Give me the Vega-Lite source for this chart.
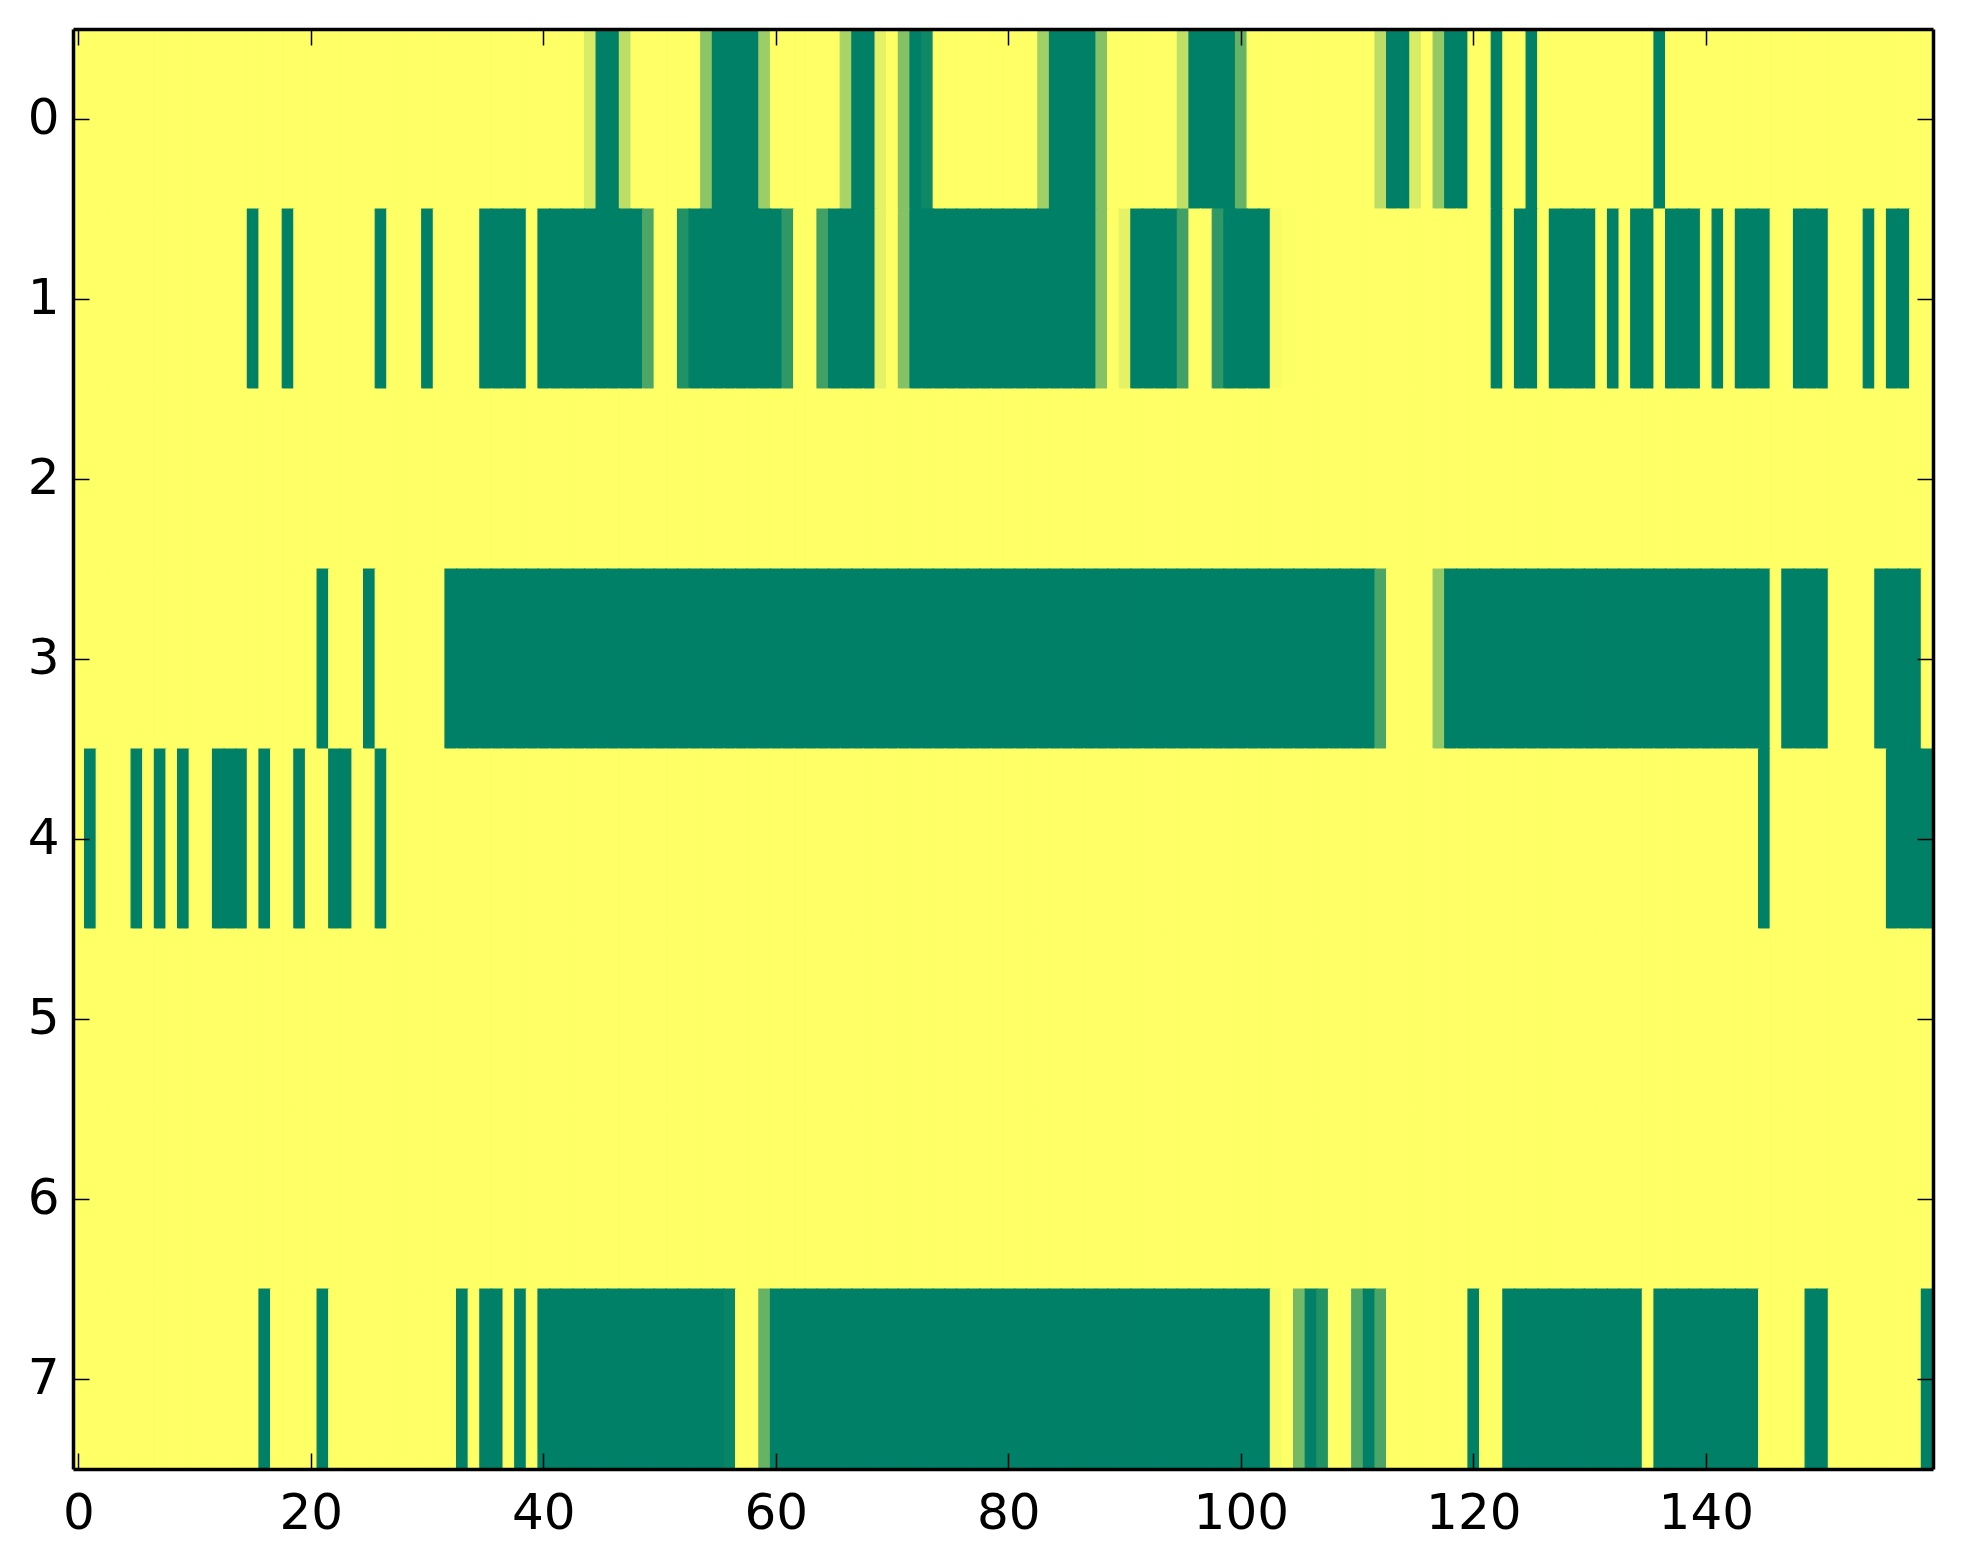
{
  "$schema": "https://vega.github.io/schema/vega-lite/v6.json",
  "description": "Binary-ish matrix of 8 rows x 160 columns, matplotlib summer colormap.",
  "width": 1860,
  "height": 1440,
  "autosize": "none",
  "padding": {"left": 73, "top": 29, "right": 30, "bottom": 95},
  "background": "white",
  "data": {
    "values": [
      {"r":0,"c":0,"v":1},{"r":0,"c":1,"v":1},{"r":0,"c":2,"v":1},{"r":0,"c":3,"v":1},{"r":0,"c":4,"v":1},{"r":0,"c":5,"v":1},{"r":0,"c":6,"v":1},{"r":0,"c":7,"v":1},{"r":0,"c":8,"v":1},{"r":0,"c":9,"v":1},
      {"r":0,"c":10,"v":1},{"r":0,"c":11,"v":1},{"r":0,"c":12,"v":1},{"r":0,"c":13,"v":1},{"r":0,"c":14,"v":1},{"r":0,"c":15,"v":1},{"r":0,"c":16,"v":1},{"r":0,"c":17,"v":1},{"r":0,"c":18,"v":1},{"r":0,"c":19,"v":1},
      {"r":0,"c":20,"v":1},{"r":0,"c":21,"v":1},{"r":0,"c":22,"v":1},{"r":0,"c":23,"v":1},{"r":0,"c":24,"v":1},{"r":0,"c":25,"v":1},{"r":0,"c":26,"v":1},{"r":0,"c":27,"v":1},{"r":0,"c":28,"v":1},{"r":0,"c":29,"v":1},
      {"r":0,"c":30,"v":1},{"r":0,"c":31,"v":1},{"r":0,"c":32,"v":1},{"r":0,"c":33,"v":1},{"r":0,"c":34,"v":1},{"r":0,"c":35,"v":1},{"r":0,"c":36,"v":1},{"r":0,"c":37,"v":1},{"r":0,"c":38,"v":1},{"r":0,"c":39,"v":1},
      {"r":0,"c":40,"v":1},{"r":0,"c":41,"v":1},{"r":0,"c":42,"v":1},{"r":0,"c":43,"v":1},{"r":0,"c":44,"v":0.85},{"r":0,"c":45,"v":0},{"r":0,"c":46,"v":0},{"r":0,"c":47,"v":0.74},{"r":0,"c":48,"v":1},{"r":0,"c":49,"v":1},
      {"r":0,"c":50,"v":1},{"r":0,"c":51,"v":1},{"r":0,"c":52,"v":1},{"r":0,"c":53,"v":1},{"r":0,"c":54,"v":0.55},{"r":0,"c":55,"v":0},{"r":0,"c":56,"v":0},{"r":0,"c":57,"v":0},{"r":0,"c":58,"v":0},{"r":0,"c":59,"v":0.61},
      {"r":0,"c":60,"v":1},{"r":0,"c":61,"v":1},{"r":0,"c":62,"v":1},{"r":0,"c":63,"v":1},{"r":0,"c":64,"v":1},{"r":0,"c":65,"v":1},{"r":0,"c":66,"v":0.66},{"r":0,"c":67,"v":0},{"r":0,"c":68,"v":0},{"r":0,"c":69,"v":0.9},
      {"r":0,"c":70,"v":1},{"r":0,"c":71,"v":0.52},{"r":0,"c":72,"v":0},{"r":0,"c":73,"v":0.06},{"r":0,"c":74,"v":1},{"r":0,"c":75,"v":1},{"r":0,"c":76,"v":1},{"r":0,"c":77,"v":1},{"r":0,"c":78,"v":1},{"r":0,"c":79,"v":1},
      {"r":0,"c":80,"v":1},{"r":0,"c":81,"v":1},{"r":0,"c":82,"v":1},{"r":0,"c":83,"v":0.63},{"r":0,"c":84,"v":0},{"r":0,"c":85,"v":0},{"r":0,"c":86,"v":0},{"r":0,"c":87,"v":0},{"r":0,"c":88,"v":0.52},{"r":0,"c":89,"v":1},
      {"r":0,"c":90,"v":1},{"r":0,"c":91,"v":1},{"r":0,"c":92,"v":1},{"r":0,"c":93,"v":1},{"r":0,"c":94,"v":1},{"r":0,"c":95,"v":0.75},{"r":0,"c":96,"v":0},{"r":0,"c":97,"v":0},{"r":0,"c":98,"v":0},{"r":0,"c":99,"v":0},
      {"r":0,"c":100,"v":0.4},{"r":0,"c":101,"v":1},{"r":0,"c":102,"v":1},{"r":0,"c":103,"v":1},{"r":0,"c":104,"v":1},{"r":0,"c":105,"v":1},{"r":0,"c":106,"v":1},{"r":0,"c":107,"v":1},{"r":0,"c":108,"v":1},{"r":0,"c":109,"v":1},
      {"r":0,"c":110,"v":1},{"r":0,"c":111,"v":1},{"r":0,"c":112,"v":0.74},{"r":0,"c":113,"v":0},{"r":0,"c":114,"v":0},{"r":0,"c":115,"v":0.85},{"r":0,"c":116,"v":1},{"r":0,"c":117,"v":0.58},{"r":0,"c":118,"v":0},{"r":0,"c":119,"v":0},
      {"r":0,"c":120,"v":1},{"r":0,"c":121,"v":1},{"r":0,"c":122,"v":0},{"r":0,"c":123,"v":1},{"r":0,"c":124,"v":1},{"r":0,"c":125,"v":0},{"r":0,"c":126,"v":1},{"r":0,"c":127,"v":1},{"r":0,"c":128,"v":1},{"r":0,"c":129,"v":1},
      {"r":0,"c":130,"v":1},{"r":0,"c":131,"v":1},{"r":0,"c":132,"v":1},{"r":0,"c":133,"v":1},{"r":0,"c":134,"v":1},{"r":0,"c":135,"v":1},{"r":0,"c":136,"v":0},{"r":0,"c":137,"v":1},{"r":0,"c":138,"v":1},{"r":0,"c":139,"v":1},
      {"r":0,"c":140,"v":1},{"r":0,"c":141,"v":1},{"r":0,"c":142,"v":1},{"r":0,"c":143,"v":1},{"r":0,"c":144,"v":1},{"r":0,"c":145,"v":1},{"r":0,"c":146,"v":1},{"r":0,"c":147,"v":1},{"r":0,"c":148,"v":1},{"r":0,"c":149,"v":1},
      {"r":0,"c":150,"v":1},{"r":0,"c":151,"v":1},{"r":0,"c":152,"v":1},{"r":0,"c":153,"v":1},{"r":0,"c":154,"v":1},{"r":0,"c":155,"v":1},{"r":0,"c":156,"v":1},{"r":0,"c":157,"v":1},{"r":0,"c":158,"v":1},{"r":0,"c":159,"v":1},

      {"r":1,"c":0,"v":1},{"r":1,"c":1,"v":1},{"r":1,"c":2,"v":1},{"r":1,"c":3,"v":1},{"r":1,"c":4,"v":1},{"r":1,"c":5,"v":1},{"r":1,"c":6,"v":1},{"r":1,"c":7,"v":1},{"r":1,"c":8,"v":1},{"r":1,"c":9,"v":1},
      {"r":1,"c":10,"v":1},{"r":1,"c":11,"v":1},{"r":1,"c":12,"v":1},{"r":1,"c":13,"v":1},{"r":1,"c":14,"v":1},{"r":1,"c":15,"v":0},{"r":1,"c":16,"v":1},{"r":1,"c":17,"v":1},{"r":1,"c":18,"v":0},{"r":1,"c":19,"v":1},
      {"r":1,"c":20,"v":1},{"r":1,"c":21,"v":1},{"r":1,"c":22,"v":1},{"r":1,"c":23,"v":1},{"r":1,"c":24,"v":1},{"r":1,"c":25,"v":1},{"r":1,"c":26,"v":0},{"r":1,"c":27,"v":1},{"r":1,"c":28,"v":1},{"r":1,"c":29,"v":1},
      {"r":1,"c":30,"v":0},{"r":1,"c":31,"v":1},{"r":1,"c":32,"v":1},{"r":1,"c":33,"v":1},{"r":1,"c":34,"v":1},{"r":1,"c":35,"v":0},{"r":1,"c":36,"v":0},{"r":1,"c":37,"v":0},{"r":1,"c":38,"v":0},{"r":1,"c":39,"v":1},
      {"r":1,"c":40,"v":0},{"r":1,"c":41,"v":0},{"r":1,"c":42,"v":0},{"r":1,"c":43,"v":0},{"r":1,"c":44,"v":0},{"r":1,"c":45,"v":0},{"r":1,"c":46,"v":0},{"r":1,"c":47,"v":0},{"r":1,"c":48,"v":0},{"r":1,"c":49,"v":0.3},
      {"r":1,"c":50,"v":1},{"r":1,"c":51,"v":1},{"r":1,"c":52,"v":0.13},{"r":1,"c":53,"v":0},{"r":1,"c":54,"v":0},{"r":1,"c":55,"v":0},{"r":1,"c":56,"v":0},{"r":1,"c":57,"v":0},{"r":1,"c":58,"v":0},{"r":1,"c":59,"v":0},
      {"r":1,"c":60,"v":0},{"r":1,"c":61,"v":0.19},{"r":1,"c":62,"v":1},{"r":1,"c":63,"v":1},{"r":1,"c":64,"v":0.25},{"r":1,"c":65,"v":0},{"r":1,"c":66,"v":0},{"r":1,"c":67,"v":0},{"r":1,"c":68,"v":0},{"r":1,"c":69,"v":0.9},
      {"r":1,"c":70,"v":1},{"r":1,"c":71,"v":0.52},{"r":1,"c":72,"v":0},{"r":1,"c":73,"v":0},{"r":1,"c":74,"v":0},{"r":1,"c":75,"v":0},{"r":1,"c":76,"v":0},{"r":1,"c":77,"v":0},{"r":1,"c":78,"v":0},{"r":1,"c":79,"v":0},
      {"r":1,"c":80,"v":0},{"r":1,"c":81,"v":0},{"r":1,"c":82,"v":0},{"r":1,"c":83,"v":0},{"r":1,"c":84,"v":0},{"r":1,"c":85,"v":0},{"r":1,"c":86,"v":0},{"r":1,"c":87,"v":0},{"r":1,"c":88,"v":0.52},{"r":1,"c":89,"v":1},
      {"r":1,"c":90,"v":0.9},{"r":1,"c":91,"v":0},{"r":1,"c":92,"v":0},{"r":1,"c":93,"v":0},{"r":1,"c":94,"v":0},{"r":1,"c":95,"v":0.25},{"r":1,"c":96,"v":1},{"r":1,"c":97,"v":1},{"r":1,"c":98,"v":0.19},{"r":1,"c":99,"v":0},
      {"r":1,"c":100,"v":0},{"r":1,"c":101,"v":0},{"r":1,"c":102,"v":0},{"r":1,"c":103,"v":0.97},{"r":1,"c":104,"v":1},{"r":1,"c":105,"v":1},{"r":1,"c":106,"v":1},{"r":1,"c":107,"v":1},{"r":1,"c":108,"v":1},{"r":1,"c":109,"v":1},
      {"r":1,"c":110,"v":1},{"r":1,"c":111,"v":1},{"r":1,"c":112,"v":1},{"r":1,"c":113,"v":1},{"r":1,"c":114,"v":1},{"r":1,"c":115,"v":1},{"r":1,"c":116,"v":1},{"r":1,"c":117,"v":1},{"r":1,"c":118,"v":1},{"r":1,"c":119,"v":1},
      {"r":1,"c":120,"v":1},{"r":1,"c":121,"v":1},{"r":1,"c":122,"v":0},{"r":1,"c":123,"v":1},{"r":1,"c":124,"v":0},{"r":1,"c":125,"v":0},{"r":1,"c":126,"v":1},{"r":1,"c":127,"v":0},{"r":1,"c":128,"v":0},{"r":1,"c":129,"v":0},
      {"r":1,"c":130,"v":0},{"r":1,"c":131,"v":1},{"r":1,"c":132,"v":0},{"r":1,"c":133,"v":1},{"r":1,"c":134,"v":0},{"r":1,"c":135,"v":0},{"r":1,"c":136,"v":1},{"r":1,"c":137,"v":0},{"r":1,"c":138,"v":0},{"r":1,"c":139,"v":0},
      {"r":1,"c":140,"v":1},{"r":1,"c":141,"v":0},{"r":1,"c":142,"v":1},{"r":1,"c":143,"v":0},{"r":1,"c":144,"v":0},{"r":1,"c":145,"v":0},{"r":1,"c":146,"v":1},{"r":1,"c":147,"v":1},{"r":1,"c":148,"v":0},{"r":1,"c":149,"v":0},
      {"r":1,"c":150,"v":0},{"r":1,"c":151,"v":1},{"r":1,"c":152,"v":1},{"r":1,"c":153,"v":1},{"r":1,"c":154,"v":0},{"r":1,"c":155,"v":1},{"r":1,"c":156,"v":0},{"r":1,"c":157,"v":0},{"r":1,"c":158,"v":1},{"r":1,"c":159,"v":1},

      {"r":2,"c":0,"v":1},{"r":2,"c":1,"v":1},{"r":2,"c":2,"v":1},{"r":2,"c":3,"v":1},{"r":2,"c":4,"v":1},{"r":2,"c":5,"v":1},{"r":2,"c":6,"v":1},{"r":2,"c":7,"v":1},{"r":2,"c":8,"v":1},{"r":2,"c":9,"v":1},
      {"r":2,"c":10,"v":1},{"r":2,"c":11,"v":1},{"r":2,"c":12,"v":1},{"r":2,"c":13,"v":1},{"r":2,"c":14,"v":1},{"r":2,"c":15,"v":1},{"r":2,"c":16,"v":1},{"r":2,"c":17,"v":1},{"r":2,"c":18,"v":1},{"r":2,"c":19,"v":1},
      {"r":2,"c":20,"v":1},{"r":2,"c":21,"v":1},{"r":2,"c":22,"v":1},{"r":2,"c":23,"v":1},{"r":2,"c":24,"v":1},{"r":2,"c":25,"v":1},{"r":2,"c":26,"v":1},{"r":2,"c":27,"v":1},{"r":2,"c":28,"v":1},{"r":2,"c":29,"v":1},
      {"r":2,"c":30,"v":1},{"r":2,"c":31,"v":1},{"r":2,"c":32,"v":1},{"r":2,"c":33,"v":1},{"r":2,"c":34,"v":1},{"r":2,"c":35,"v":1},{"r":2,"c":36,"v":1},{"r":2,"c":37,"v":1},{"r":2,"c":38,"v":1},{"r":2,"c":39,"v":1},
      {"r":2,"c":40,"v":1},{"r":2,"c":41,"v":1},{"r":2,"c":42,"v":1},{"r":2,"c":43,"v":1},{"r":2,"c":44,"v":1},{"r":2,"c":45,"v":1},{"r":2,"c":46,"v":1},{"r":2,"c":47,"v":1},{"r":2,"c":48,"v":1},{"r":2,"c":49,"v":1},
      {"r":2,"c":50,"v":1},{"r":2,"c":51,"v":1},{"r":2,"c":52,"v":1},{"r":2,"c":53,"v":1},{"r":2,"c":54,"v":1},{"r":2,"c":55,"v":1},{"r":2,"c":56,"v":1},{"r":2,"c":57,"v":1},{"r":2,"c":58,"v":1},{"r":2,"c":59,"v":1},
      {"r":2,"c":60,"v":1},{"r":2,"c":61,"v":1},{"r":2,"c":62,"v":1},{"r":2,"c":63,"v":1},{"r":2,"c":64,"v":1},{"r":2,"c":65,"v":1},{"r":2,"c":66,"v":1},{"r":2,"c":67,"v":1},{"r":2,"c":68,"v":1},{"r":2,"c":69,"v":1},
      {"r":2,"c":70,"v":1},{"r":2,"c":71,"v":1},{"r":2,"c":72,"v":1},{"r":2,"c":73,"v":1},{"r":2,"c":74,"v":1},{"r":2,"c":75,"v":1},{"r":2,"c":76,"v":1},{"r":2,"c":77,"v":1},{"r":2,"c":78,"v":1},{"r":2,"c":79,"v":1},
      {"r":2,"c":80,"v":1},{"r":2,"c":81,"v":1},{"r":2,"c":82,"v":1},{"r":2,"c":83,"v":1},{"r":2,"c":84,"v":1},{"r":2,"c":85,"v":1},{"r":2,"c":86,"v":1},{"r":2,"c":87,"v":1},{"r":2,"c":88,"v":1},{"r":2,"c":89,"v":1},
      {"r":2,"c":90,"v":1},{"r":2,"c":91,"v":1},{"r":2,"c":92,"v":1},{"r":2,"c":93,"v":1},{"r":2,"c":94,"v":1},{"r":2,"c":95,"v":1},{"r":2,"c":96,"v":1},{"r":2,"c":97,"v":1},{"r":2,"c":98,"v":1},{"r":2,"c":99,"v":1},
      {"r":2,"c":100,"v":1},{"r":2,"c":101,"v":1},{"r":2,"c":102,"v":1},{"r":2,"c":103,"v":1},{"r":2,"c":104,"v":1},{"r":2,"c":105,"v":1},{"r":2,"c":106,"v":1},{"r":2,"c":107,"v":1},{"r":2,"c":108,"v":1},{"r":2,"c":109,"v":1},
      {"r":2,"c":110,"v":1},{"r":2,"c":111,"v":1},{"r":2,"c":112,"v":1},{"r":2,"c":113,"v":1},{"r":2,"c":114,"v":1},{"r":2,"c":115,"v":1},{"r":2,"c":116,"v":1},{"r":2,"c":117,"v":1},{"r":2,"c":118,"v":1},{"r":2,"c":119,"v":1},
      {"r":2,"c":120,"v":1},{"r":2,"c":121,"v":1},{"r":2,"c":122,"v":1},{"r":2,"c":123,"v":1},{"r":2,"c":124,"v":1},{"r":2,"c":125,"v":1},{"r":2,"c":126,"v":1},{"r":2,"c":127,"v":1},{"r":2,"c":128,"v":1},{"r":2,"c":129,"v":1},
      {"r":2,"c":130,"v":1},{"r":2,"c":131,"v":1},{"r":2,"c":132,"v":1},{"r":2,"c":133,"v":1},{"r":2,"c":134,"v":1},{"r":2,"c":135,"v":1},{"r":2,"c":136,"v":1},{"r":2,"c":137,"v":1},{"r":2,"c":138,"v":1},{"r":2,"c":139,"v":1},
      {"r":2,"c":140,"v":1},{"r":2,"c":141,"v":1},{"r":2,"c":142,"v":1},{"r":2,"c":143,"v":1},{"r":2,"c":144,"v":1},{"r":2,"c":145,"v":1},{"r":2,"c":146,"v":1},{"r":2,"c":147,"v":1},{"r":2,"c":148,"v":1},{"r":2,"c":149,"v":1},
      {"r":2,"c":150,"v":1},{"r":2,"c":151,"v":1},{"r":2,"c":152,"v":1},{"r":2,"c":153,"v":1},{"r":2,"c":154,"v":1},{"r":2,"c":155,"v":1},{"r":2,"c":156,"v":1},{"r":2,"c":157,"v":1},{"r":2,"c":158,"v":1},{"r":2,"c":159,"v":1},

      {"r":3,"c":0,"v":1},{"r":3,"c":1,"v":1},{"r":3,"c":2,"v":1},{"r":3,"c":3,"v":1},{"r":3,"c":4,"v":1},{"r":3,"c":5,"v":1},{"r":3,"c":6,"v":1},{"r":3,"c":7,"v":1},{"r":3,"c":8,"v":1},{"r":3,"c":9,"v":1},
      {"r":3,"c":10,"v":1},{"r":3,"c":11,"v":1},{"r":3,"c":12,"v":1},{"r":3,"c":13,"v":1},{"r":3,"c":14,"v":1},{"r":3,"c":15,"v":1},{"r":3,"c":16,"v":1},{"r":3,"c":17,"v":1},{"r":3,"c":18,"v":1},{"r":3,"c":19,"v":1},
      {"r":3,"c":20,"v":1},{"r":3,"c":21,"v":0},{"r":3,"c":22,"v":1},{"r":3,"c":23,"v":1},{"r":3,"c":24,"v":1},{"r":3,"c":25,"v":0},{"r":3,"c":26,"v":1},{"r":3,"c":27,"v":1},{"r":3,"c":28,"v":1},{"r":3,"c":29,"v":1},
      {"r":3,"c":30,"v":1},{"r":3,"c":31,"v":1},{"r":3,"c":32,"v":0},{"r":3,"c":33,"v":0},{"r":3,"c":34,"v":0},{"r":3,"c":35,"v":0},{"r":3,"c":36,"v":0},{"r":3,"c":37,"v":0},{"r":3,"c":38,"v":0},{"r":3,"c":39,"v":0},
      {"r":3,"c":40,"v":0},{"r":3,"c":41,"v":0},{"r":3,"c":42,"v":0},{"r":3,"c":43,"v":0},{"r":3,"c":44,"v":0},{"r":3,"c":45,"v":0},{"r":3,"c":46,"v":0},{"r":3,"c":47,"v":0},{"r":3,"c":48,"v":0},{"r":3,"c":49,"v":0},
      {"r":3,"c":50,"v":0},{"r":3,"c":51,"v":0},{"r":3,"c":52,"v":0},{"r":3,"c":53,"v":0},{"r":3,"c":54,"v":0},{"r":3,"c":55,"v":0},{"r":3,"c":56,"v":0},{"r":3,"c":57,"v":0},{"r":3,"c":58,"v":0},{"r":3,"c":59,"v":0},
      {"r":3,"c":60,"v":0},{"r":3,"c":61,"v":0},{"r":3,"c":62,"v":0},{"r":3,"c":63,"v":0},{"r":3,"c":64,"v":0},{"r":3,"c":65,"v":0},{"r":3,"c":66,"v":0},{"r":3,"c":67,"v":0},{"r":3,"c":68,"v":0},{"r":3,"c":69,"v":0},
      {"r":3,"c":70,"v":0},{"r":3,"c":71,"v":0},{"r":3,"c":72,"v":0},{"r":3,"c":73,"v":0},{"r":3,"c":74,"v":0},{"r":3,"c":75,"v":0},{"r":3,"c":76,"v":0},{"r":3,"c":77,"v":0},{"r":3,"c":78,"v":0},{"r":3,"c":79,"v":0},
      {"r":3,"c":80,"v":0},{"r":3,"c":81,"v":0},{"r":3,"c":82,"v":0},{"r":3,"c":83,"v":0},{"r":3,"c":84,"v":0},{"r":3,"c":85,"v":0},{"r":3,"c":86,"v":0},{"r":3,"c":87,"v":0},{"r":3,"c":88,"v":0},{"r":3,"c":89,"v":0},
      {"r":3,"c":90,"v":0},{"r":3,"c":91,"v":0},{"r":3,"c":92,"v":0},{"r":3,"c":93,"v":0},{"r":3,"c":94,"v":0},{"r":3,"c":95,"v":0},{"r":3,"c":96,"v":0},{"r":3,"c":97,"v":0},{"r":3,"c":98,"v":0},{"r":3,"c":99,"v":0},
      {"r":3,"c":100,"v":0},{"r":3,"c":101,"v":0},{"r":3,"c":102,"v":0},{"r":3,"c":103,"v":0},{"r":3,"c":104,"v":0},{"r":3,"c":105,"v":0},{"r":3,"c":106,"v":0},{"r":3,"c":107,"v":0},{"r":3,"c":108,"v":0},{"r":3,"c":109,"v":0},
      {"r":3,"c":110,"v":0},{"r":3,"c":111,"v":0},{"r":3,"c":112,"v":0.29},{"r":3,"c":113,"v":1},{"r":3,"c":114,"v":1},{"r":3,"c":115,"v":1},{"r":3,"c":116,"v":1},{"r":3,"c":117,"v":0.58},{"r":3,"c":118,"v":0},{"r":3,"c":119,"v":0},
      {"r":3,"c":120,"v":0},{"r":3,"c":121,"v":0},{"r":3,"c":122,"v":0},{"r":3,"c":123,"v":0},{"r":3,"c":124,"v":0},{"r":3,"c":125,"v":0},{"r":3,"c":126,"v":0},{"r":3,"c":127,"v":0},{"r":3,"c":128,"v":0},{"r":3,"c":129,"v":0},
      {"r":3,"c":130,"v":0},{"r":3,"c":131,"v":0},{"r":3,"c":132,"v":0},{"r":3,"c":133,"v":0},{"r":3,"c":134,"v":0},{"r":3,"c":135,"v":0},{"r":3,"c":136,"v":0},{"r":3,"c":137,"v":0},{"r":3,"c":138,"v":0},{"r":3,"c":139,"v":0},
      {"r":3,"c":140,"v":0},{"r":3,"c":141,"v":0},{"r":3,"c":142,"v":0},{"r":3,"c":143,"v":0},{"r":3,"c":144,"v":0},{"r":3,"c":145,"v":0},{"r":3,"c":146,"v":1},{"r":3,"c":147,"v":0},{"r":3,"c":148,"v":0},{"r":3,"c":149,"v":0},
      {"r":3,"c":150,"v":0},{"r":3,"c":151,"v":1},{"r":3,"c":152,"v":1},{"r":3,"c":153,"v":1},{"r":3,"c":154,"v":1},{"r":3,"c":155,"v":0},{"r":3,"c":156,"v":0},{"r":3,"c":157,"v":0},{"r":3,"c":158,"v":0},{"r":3,"c":159,"v":1},

      {"r":4,"c":0,"v":1},{"r":4,"c":1,"v":0},{"r":4,"c":2,"v":1},{"r":4,"c":3,"v":1},{"r":4,"c":4,"v":1},{"r":4,"c":5,"v":0},{"r":4,"c":6,"v":1},{"r":4,"c":7,"v":0},{"r":4,"c":8,"v":1},{"r":4,"c":9,"v":0},
      {"r":4,"c":10,"v":1},{"r":4,"c":11,"v":1},{"r":4,"c":12,"v":0},{"r":4,"c":13,"v":0},{"r":4,"c":14,"v":0},{"r":4,"c":15,"v":1},{"r":4,"c":16,"v":0},{"r":4,"c":17,"v":1},{"r":4,"c":18,"v":1},{"r":4,"c":19,"v":0},
      {"r":4,"c":20,"v":1},{"r":4,"c":21,"v":1},{"r":4,"c":22,"v":0},{"r":4,"c":23,"v":0},{"r":4,"c":24,"v":1},{"r":4,"c":25,"v":1},{"r":4,"c":26,"v":0},{"r":4,"c":27,"v":1},{"r":4,"c":28,"v":1},{"r":4,"c":29,"v":1},
      {"r":4,"c":30,"v":1},{"r":4,"c":31,"v":1},{"r":4,"c":32,"v":1},{"r":4,"c":33,"v":1},{"r":4,"c":34,"v":1},{"r":4,"c":35,"v":1},{"r":4,"c":36,"v":1},{"r":4,"c":37,"v":1},{"r":4,"c":38,"v":1},{"r":4,"c":39,"v":1},
      {"r":4,"c":40,"v":1},{"r":4,"c":41,"v":1},{"r":4,"c":42,"v":1},{"r":4,"c":43,"v":1},{"r":4,"c":44,"v":1},{"r":4,"c":45,"v":1},{"r":4,"c":46,"v":1},{"r":4,"c":47,"v":1},{"r":4,"c":48,"v":1},{"r":4,"c":49,"v":1},
      {"r":4,"c":50,"v":1},{"r":4,"c":51,"v":1},{"r":4,"c":52,"v":1},{"r":4,"c":53,"v":1},{"r":4,"c":54,"v":1},{"r":4,"c":55,"v":1},{"r":4,"c":56,"v":1},{"r":4,"c":57,"v":1},{"r":4,"c":58,"v":1},{"r":4,"c":59,"v":1},
      {"r":4,"c":60,"v":1},{"r":4,"c":61,"v":1},{"r":4,"c":62,"v":1},{"r":4,"c":63,"v":1},{"r":4,"c":64,"v":1},{"r":4,"c":65,"v":1},{"r":4,"c":66,"v":1},{"r":4,"c":67,"v":1},{"r":4,"c":68,"v":1},{"r":4,"c":69,"v":1},
      {"r":4,"c":70,"v":1},{"r":4,"c":71,"v":1},{"r":4,"c":72,"v":1},{"r":4,"c":73,"v":1},{"r":4,"c":74,"v":1},{"r":4,"c":75,"v":1},{"r":4,"c":76,"v":1},{"r":4,"c":77,"v":1},{"r":4,"c":78,"v":1},{"r":4,"c":79,"v":1},
      {"r":4,"c":80,"v":1},{"r":4,"c":81,"v":1},{"r":4,"c":82,"v":1},{"r":4,"c":83,"v":1},{"r":4,"c":84,"v":1},{"r":4,"c":85,"v":1},{"r":4,"c":86,"v":1},{"r":4,"c":87,"v":1},{"r":4,"c":88,"v":1},{"r":4,"c":89,"v":1},
      {"r":4,"c":90,"v":1},{"r":4,"c":91,"v":1},{"r":4,"c":92,"v":1},{"r":4,"c":93,"v":1},{"r":4,"c":94,"v":1},{"r":4,"c":95,"v":1},{"r":4,"c":96,"v":1},{"r":4,"c":97,"v":1},{"r":4,"c":98,"v":1},{"r":4,"c":99,"v":1},
      {"r":4,"c":100,"v":1},{"r":4,"c":101,"v":1},{"r":4,"c":102,"v":1},{"r":4,"c":103,"v":1},{"r":4,"c":104,"v":1},{"r":4,"c":105,"v":1},{"r":4,"c":106,"v":1},{"r":4,"c":107,"v":1},{"r":4,"c":108,"v":1},{"r":4,"c":109,"v":1},
      {"r":4,"c":110,"v":1},{"r":4,"c":111,"v":1},{"r":4,"c":112,"v":1},{"r":4,"c":113,"v":1},{"r":4,"c":114,"v":1},{"r":4,"c":115,"v":1},{"r":4,"c":116,"v":1},{"r":4,"c":117,"v":1},{"r":4,"c":118,"v":1},{"r":4,"c":119,"v":1},
      {"r":4,"c":120,"v":1},{"r":4,"c":121,"v":1},{"r":4,"c":122,"v":1},{"r":4,"c":123,"v":1},{"r":4,"c":124,"v":1},{"r":4,"c":125,"v":1},{"r":4,"c":126,"v":1},{"r":4,"c":127,"v":1},{"r":4,"c":128,"v":1},{"r":4,"c":129,"v":1},
      {"r":4,"c":130,"v":1},{"r":4,"c":131,"v":1},{"r":4,"c":132,"v":1},{"r":4,"c":133,"v":1},{"r":4,"c":134,"v":1},{"r":4,"c":135,"v":1},{"r":4,"c":136,"v":1},{"r":4,"c":137,"v":1},{"r":4,"c":138,"v":1},{"r":4,"c":139,"v":1},
      {"r":4,"c":140,"v":1},{"r":4,"c":141,"v":1},{"r":4,"c":142,"v":1},{"r":4,"c":143,"v":1},{"r":4,"c":144,"v":1},{"r":4,"c":145,"v":0},{"r":4,"c":146,"v":1},{"r":4,"c":147,"v":1},{"r":4,"c":148,"v":1},{"r":4,"c":149,"v":1},
      {"r":4,"c":150,"v":1},{"r":4,"c":151,"v":1},{"r":4,"c":152,"v":1},{"r":4,"c":153,"v":1},{"r":4,"c":154,"v":1},{"r":4,"c":155,"v":1},{"r":4,"c":156,"v":0},{"r":4,"c":157,"v":0},{"r":4,"c":158,"v":0},{"r":4,"c":159,"v":0},

      {"r":5,"c":0,"v":1},{"r":5,"c":1,"v":1},{"r":5,"c":2,"v":1},{"r":5,"c":3,"v":1},{"r":5,"c":4,"v":1},{"r":5,"c":5,"v":1},{"r":5,"c":6,"v":1},{"r":5,"c":7,"v":1},{"r":5,"c":8,"v":1},{"r":5,"c":9,"v":1},
      {"r":5,"c":10,"v":1},{"r":5,"c":11,"v":1},{"r":5,"c":12,"v":1},{"r":5,"c":13,"v":1},{"r":5,"c":14,"v":1},{"r":5,"c":15,"v":1},{"r":5,"c":16,"v":1},{"r":5,"c":17,"v":1},{"r":5,"c":18,"v":1},{"r":5,"c":19,"v":1},
      {"r":5,"c":20,"v":1},{"r":5,"c":21,"v":1},{"r":5,"c":22,"v":1},{"r":5,"c":23,"v":1},{"r":5,"c":24,"v":1},{"r":5,"c":25,"v":1},{"r":5,"c":26,"v":1},{"r":5,"c":27,"v":1},{"r":5,"c":28,"v":1},{"r":5,"c":29,"v":1},
      {"r":5,"c":30,"v":1},{"r":5,"c":31,"v":1},{"r":5,"c":32,"v":1},{"r":5,"c":33,"v":1},{"r":5,"c":34,"v":1},{"r":5,"c":35,"v":1},{"r":5,"c":36,"v":1},{"r":5,"c":37,"v":1},{"r":5,"c":38,"v":1},{"r":5,"c":39,"v":1},
      {"r":5,"c":40,"v":1},{"r":5,"c":41,"v":1},{"r":5,"c":42,"v":1},{"r":5,"c":43,"v":1},{"r":5,"c":44,"v":1},{"r":5,"c":45,"v":1},{"r":5,"c":46,"v":1},{"r":5,"c":47,"v":1},{"r":5,"c":48,"v":1},{"r":5,"c":49,"v":1},
      {"r":5,"c":50,"v":1},{"r":5,"c":51,"v":1},{"r":5,"c":52,"v":1},{"r":5,"c":53,"v":1},{"r":5,"c":54,"v":1},{"r":5,"c":55,"v":1},{"r":5,"c":56,"v":1},{"r":5,"c":57,"v":1},{"r":5,"c":58,"v":1},{"r":5,"c":59,"v":1},
      {"r":5,"c":60,"v":1},{"r":5,"c":61,"v":1},{"r":5,"c":62,"v":1},{"r":5,"c":63,"v":1},{"r":5,"c":64,"v":1},{"r":5,"c":65,"v":1},{"r":5,"c":66,"v":1},{"r":5,"c":67,"v":1},{"r":5,"c":68,"v":1},{"r":5,"c":69,"v":1},
      {"r":5,"c":70,"v":1},{"r":5,"c":71,"v":1},{"r":5,"c":72,"v":1},{"r":5,"c":73,"v":1},{"r":5,"c":74,"v":1},{"r":5,"c":75,"v":1},{"r":5,"c":76,"v":1},{"r":5,"c":77,"v":1},{"r":5,"c":78,"v":1},{"r":5,"c":79,"v":1},
      {"r":5,"c":80,"v":1},{"r":5,"c":81,"v":1},{"r":5,"c":82,"v":1},{"r":5,"c":83,"v":1},{"r":5,"c":84,"v":1},{"r":5,"c":85,"v":1},{"r":5,"c":86,"v":1},{"r":5,"c":87,"v":1},{"r":5,"c":88,"v":1},{"r":5,"c":89,"v":1},
      {"r":5,"c":90,"v":1},{"r":5,"c":91,"v":1},{"r":5,"c":92,"v":1},{"r":5,"c":93,"v":1},{"r":5,"c":94,"v":1},{"r":5,"c":95,"v":1},{"r":5,"c":96,"v":1},{"r":5,"c":97,"v":1},{"r":5,"c":98,"v":1},{"r":5,"c":99,"v":1},
      {"r":5,"c":100,"v":1},{"r":5,"c":101,"v":1},{"r":5,"c":102,"v":1},{"r":5,"c":103,"v":1},{"r":5,"c":104,"v":1},{"r":5,"c":105,"v":1},{"r":5,"c":106,"v":1},{"r":5,"c":107,"v":1},{"r":5,"c":108,"v":1},{"r":5,"c":109,"v":1},
      {"r":5,"c":110,"v":1},{"r":5,"c":111,"v":1},{"r":5,"c":112,"v":1},{"r":5,"c":113,"v":1},{"r":5,"c":114,"v":1},{"r":5,"c":115,"v":1},{"r":5,"c":116,"v":1},{"r":5,"c":117,"v":1},{"r":5,"c":118,"v":1},{"r":5,"c":119,"v":1},
      {"r":5,"c":120,"v":1},{"r":5,"c":121,"v":1},{"r":5,"c":122,"v":1},{"r":5,"c":123,"v":1},{"r":5,"c":124,"v":1},{"r":5,"c":125,"v":1},{"r":5,"c":126,"v":1},{"r":5,"c":127,"v":1},{"r":5,"c":128,"v":1},{"r":5,"c":129,"v":1},
      {"r":5,"c":130,"v":1},{"r":5,"c":131,"v":1},{"r":5,"c":132,"v":1},{"r":5,"c":133,"v":1},{"r":5,"c":134,"v":1},{"r":5,"c":135,"v":1},{"r":5,"c":136,"v":1},{"r":5,"c":137,"v":1},{"r":5,"c":138,"v":1},{"r":5,"c":139,"v":1},
      {"r":5,"c":140,"v":1},{"r":5,"c":141,"v":1},{"r":5,"c":142,"v":1},{"r":5,"c":143,"v":1},{"r":5,"c":144,"v":1},{"r":5,"c":145,"v":1},{"r":5,"c":146,"v":1},{"r":5,"c":147,"v":1},{"r":5,"c":148,"v":1},{"r":5,"c":149,"v":1},
      {"r":5,"c":150,"v":1},{"r":5,"c":151,"v":1},{"r":5,"c":152,"v":1},{"r":5,"c":153,"v":1},{"r":5,"c":154,"v":1},{"r":5,"c":155,"v":1},{"r":5,"c":156,"v":1},{"r":5,"c":157,"v":1},{"r":5,"c":158,"v":1},{"r":5,"c":159,"v":1},

      {"r":6,"c":0,"v":1},{"r":6,"c":1,"v":1},{"r":6,"c":2,"v":1},{"r":6,"c":3,"v":1},{"r":6,"c":4,"v":1},{"r":6,"c":5,"v":1},{"r":6,"c":6,"v":1},{"r":6,"c":7,"v":1},{"r":6,"c":8,"v":1},{"r":6,"c":9,"v":1},
      {"r":6,"c":10,"v":1},{"r":6,"c":11,"v":1},{"r":6,"c":12,"v":1},{"r":6,"c":13,"v":1},{"r":6,"c":14,"v":1},{"r":6,"c":15,"v":1},{"r":6,"c":16,"v":1},{"r":6,"c":17,"v":1},{"r":6,"c":18,"v":1},{"r":6,"c":19,"v":1},
      {"r":6,"c":20,"v":1},{"r":6,"c":21,"v":1},{"r":6,"c":22,"v":1},{"r":6,"c":23,"v":1},{"r":6,"c":24,"v":1},{"r":6,"c":25,"v":1},{"r":6,"c":26,"v":1},{"r":6,"c":27,"v":1},{"r":6,"c":28,"v":1},{"r":6,"c":29,"v":1},
      {"r":6,"c":30,"v":1},{"r":6,"c":31,"v":1},{"r":6,"c":32,"v":1},{"r":6,"c":33,"v":1},{"r":6,"c":34,"v":1},{"r":6,"c":35,"v":1},{"r":6,"c":36,"v":1},{"r":6,"c":37,"v":1},{"r":6,"c":38,"v":1},{"r":6,"c":39,"v":1},
      {"r":6,"c":40,"v":1},{"r":6,"c":41,"v":1},{"r":6,"c":42,"v":1},{"r":6,"c":43,"v":1},{"r":6,"c":44,"v":1},{"r":6,"c":45,"v":1},{"r":6,"c":46,"v":1},{"r":6,"c":47,"v":1},{"r":6,"c":48,"v":1},{"r":6,"c":49,"v":1},
      {"r":6,"c":50,"v":1},{"r":6,"c":51,"v":1},{"r":6,"c":52,"v":1},{"r":6,"c":53,"v":1},{"r":6,"c":54,"v":1},{"r":6,"c":55,"v":1},{"r":6,"c":56,"v":1},{"r":6,"c":57,"v":1},{"r":6,"c":58,"v":1},{"r":6,"c":59,"v":1},
      {"r":6,"c":60,"v":1},{"r":6,"c":61,"v":1},{"r":6,"c":62,"v":1},{"r":6,"c":63,"v":1},{"r":6,"c":64,"v":1},{"r":6,"c":65,"v":1},{"r":6,"c":66,"v":1},{"r":6,"c":67,"v":1},{"r":6,"c":68,"v":1},{"r":6,"c":69,"v":1},
      {"r":6,"c":70,"v":1},{"r":6,"c":71,"v":1},{"r":6,"c":72,"v":1},{"r":6,"c":73,"v":1},{"r":6,"c":74,"v":1},{"r":6,"c":75,"v":1},{"r":6,"c":76,"v":1},{"r":6,"c":77,"v":1},{"r":6,"c":78,"v":1},{"r":6,"c":79,"v":1},
      {"r":6,"c":80,"v":1},{"r":6,"c":81,"v":1},{"r":6,"c":82,"v":1},{"r":6,"c":83,"v":1},{"r":6,"c":84,"v":1},{"r":6,"c":85,"v":1},{"r":6,"c":86,"v":1},{"r":6,"c":87,"v":1},{"r":6,"c":88,"v":1},{"r":6,"c":89,"v":1},
      {"r":6,"c":90,"v":1},{"r":6,"c":91,"v":1},{"r":6,"c":92,"v":1},{"r":6,"c":93,"v":1},{"r":6,"c":94,"v":1},{"r":6,"c":95,"v":1},{"r":6,"c":96,"v":1},{"r":6,"c":97,"v":1},{"r":6,"c":98,"v":1},{"r":6,"c":99,"v":1},
      {"r":6,"c":100,"v":1},{"r":6,"c":101,"v":1},{"r":6,"c":102,"v":1},{"r":6,"c":103,"v":1},{"r":6,"c":104,"v":1},{"r":6,"c":105,"v":1},{"r":6,"c":106,"v":1},{"r":6,"c":107,"v":1},{"r":6,"c":108,"v":1},{"r":6,"c":109,"v":1},
      {"r":6,"c":110,"v":1},{"r":6,"c":111,"v":1},{"r":6,"c":112,"v":1},{"r":6,"c":113,"v":1},{"r":6,"c":114,"v":1},{"r":6,"c":115,"v":1},{"r":6,"c":116,"v":1},{"r":6,"c":117,"v":1},{"r":6,"c":118,"v":1},{"r":6,"c":119,"v":1},
      {"r":6,"c":120,"v":1},{"r":6,"c":121,"v":1},{"r":6,"c":122,"v":1},{"r":6,"c":123,"v":1},{"r":6,"c":124,"v":1},{"r":6,"c":125,"v":1},{"r":6,"c":126,"v":1},{"r":6,"c":127,"v":1},{"r":6,"c":128,"v":1},{"r":6,"c":129,"v":1},
      {"r":6,"c":130,"v":1},{"r":6,"c":131,"v":1},{"r":6,"c":132,"v":1},{"r":6,"c":133,"v":1},{"r":6,"c":134,"v":1},{"r":6,"c":135,"v":1},{"r":6,"c":136,"v":1},{"r":6,"c":137,"v":1},{"r":6,"c":138,"v":1},{"r":6,"c":139,"v":1},
      {"r":6,"c":140,"v":1},{"r":6,"c":141,"v":1},{"r":6,"c":142,"v":1},{"r":6,"c":143,"v":1},{"r":6,"c":144,"v":1},{"r":6,"c":145,"v":1},{"r":6,"c":146,"v":1},{"r":6,"c":147,"v":1},{"r":6,"c":148,"v":1},{"r":6,"c":149,"v":1},
      {"r":6,"c":150,"v":1},{"r":6,"c":151,"v":1},{"r":6,"c":152,"v":1},{"r":6,"c":153,"v":1},{"r":6,"c":154,"v":1},{"r":6,"c":155,"v":1},{"r":6,"c":156,"v":1},{"r":6,"c":157,"v":1},{"r":6,"c":158,"v":1},{"r":6,"c":159,"v":1},

      {"r":7,"c":0,"v":1},{"r":7,"c":1,"v":1},{"r":7,"c":2,"v":1},{"r":7,"c":3,"v":1},{"r":7,"c":4,"v":1},{"r":7,"c":5,"v":1},{"r":7,"c":6,"v":1},{"r":7,"c":7,"v":1},{"r":7,"c":8,"v":1},{"r":7,"c":9,"v":1},
      {"r":7,"c":10,"v":1},{"r":7,"c":11,"v":1},{"r":7,"c":12,"v":1},{"r":7,"c":13,"v":1},{"r":7,"c":14,"v":1},{"r":7,"c":15,"v":1},{"r":7,"c":16,"v":0},{"r":7,"c":17,"v":1},{"r":7,"c":18,"v":1},{"r":7,"c":19,"v":1},
      {"r":7,"c":20,"v":1},{"r":7,"c":21,"v":0},{"r":7,"c":22,"v":1},{"r":7,"c":23,"v":1},{"r":7,"c":24,"v":1},{"r":7,"c":25,"v":1},{"r":7,"c":26,"v":1},{"r":7,"c":27,"v":1},{"r":7,"c":28,"v":1},{"r":7,"c":29,"v":1},
      {"r":7,"c":30,"v":1},{"r":7,"c":31,"v":1},{"r":7,"c":32,"v":1},{"r":7,"c":33,"v":0},{"r":7,"c":34,"v":1},{"r":7,"c":35,"v":0},{"r":7,"c":36,"v":0},{"r":7,"c":37,"v":1},{"r":7,"c":38,"v":0},{"r":7,"c":39,"v":1},
      {"r":7,"c":40,"v":0},{"r":7,"c":41,"v":0},{"r":7,"c":42,"v":0},{"r":7,"c":43,"v":0},{"r":7,"c":44,"v":0},{"r":7,"c":45,"v":0},{"r":7,"c":46,"v":0},{"r":7,"c":47,"v":0},{"r":7,"c":48,"v":0},{"r":7,"c":49,"v":0},
      {"r":7,"c":50,"v":0},{"r":7,"c":51,"v":0},{"r":7,"c":52,"v":0},{"r":7,"c":53,"v":0},{"r":7,"c":54,"v":0},{"r":7,"c":55,"v":0},{"r":7,"c":56,"v":0.03},{"r":7,"c":57,"v":1},{"r":7,"c":58,"v":1},{"r":7,"c":59,"v":0.4},
      {"r":7,"c":60,"v":0},{"r":7,"c":61,"v":0},{"r":7,"c":62,"v":0},{"r":7,"c":63,"v":0},{"r":7,"c":64,"v":0},{"r":7,"c":65,"v":0},{"r":7,"c":66,"v":0},{"r":7,"c":67,"v":0},{"r":7,"c":68,"v":0},{"r":7,"c":69,"v":0},
      {"r":7,"c":70,"v":0},{"r":7,"c":71,"v":0},{"r":7,"c":72,"v":0},{"r":7,"c":73,"v":0},{"r":7,"c":74,"v":0},{"r":7,"c":75,"v":0},{"r":7,"c":76,"v":0},{"r":7,"c":77,"v":0},{"r":7,"c":78,"v":0},{"r":7,"c":79,"v":0},
      {"r":7,"c":80,"v":0},{"r":7,"c":81,"v":0},{"r":7,"c":82,"v":0},{"r":7,"c":83,"v":0},{"r":7,"c":84,"v":0},{"r":7,"c":85,"v":0},{"r":7,"c":86,"v":0},{"r":7,"c":87,"v":0},{"r":7,"c":88,"v":0},{"r":7,"c":89,"v":0},
      {"r":7,"c":90,"v":0},{"r":7,"c":91,"v":0},{"r":7,"c":92,"v":0},{"r":7,"c":93,"v":0},{"r":7,"c":94,"v":0},{"r":7,"c":95,"v":0},{"r":7,"c":96,"v":0},{"r":7,"c":97,"v":0},{"r":7,"c":98,"v":0},{"r":7,"c":99,"v":0},
      {"r":7,"c":100,"v":0},{"r":7,"c":101,"v":0},{"r":7,"c":102,"v":0},{"r":7,"c":103,"v":0.97},{"r":7,"c":104,"v":1},{"r":7,"c":105,"v":0.45},{"r":7,"c":106,"v":0},{"r":7,"c":107,"v":0.13},{"r":7,"c":108,"v":1},{"r":7,"c":109,"v":1},
      {"r":7,"c":110,"v":0.32},{"r":7,"c":111,"v":0},{"r":7,"c":112,"v":0.29},{"r":7,"c":113,"v":1},{"r":7,"c":114,"v":1},{"r":7,"c":115,"v":1},{"r":7,"c":116,"v":1},{"r":7,"c":117,"v":1},{"r":7,"c":118,"v":1},{"r":7,"c":119,"v":1},
      {"r":7,"c":120,"v":0},{"r":7,"c":121,"v":1},{"r":7,"c":122,"v":1},{"r":7,"c":123,"v":0},{"r":7,"c":124,"v":0},{"r":7,"c":125,"v":0},{"r":7,"c":126,"v":0},{"r":7,"c":127,"v":0},{"r":7,"c":128,"v":0},{"r":7,"c":129,"v":0},
      {"r":7,"c":130,"v":0},{"r":7,"c":131,"v":0},{"r":7,"c":132,"v":0},{"r":7,"c":133,"v":0},{"r":7,"c":134,"v":0},{"r":7,"c":135,"v":1},{"r":7,"c":136,"v":0},{"r":7,"c":137,"v":0},{"r":7,"c":138,"v":0},{"r":7,"c":139,"v":0},
      {"r":7,"c":140,"v":0},{"r":7,"c":141,"v":0},{"r":7,"c":142,"v":0},{"r":7,"c":143,"v":0},{"r":7,"c":144,"v":0},{"r":7,"c":145,"v":1},{"r":7,"c":146,"v":1},{"r":7,"c":147,"v":1},{"r":7,"c":148,"v":1},{"r":7,"c":149,"v":0},
      {"r":7,"c":150,"v":0},{"r":7,"c":151,"v":1},{"r":7,"c":152,"v":1},{"r":7,"c":153,"v":1},{"r":7,"c":154,"v":1},{"r":7,"c":155,"v":1},{"r":7,"c":156,"v":1},{"r":7,"c":157,"v":1},{"r":7,"c":158,"v":1},{"r":7,"c":159,"v":0}
    ]
  },
  "layer": [
    {
      "mark": {"type": "rect", "strokeWidth": 1.2},
      "encoding": {
        "x": {
          "field": "c",
          "type": "ordinal",
          "title": null,
          "scale": {"paddingInner": 0, "paddingOuter": 0},
          "axis": {"orient": "bottom", "values": [0, 20, 40, 60, 80, 100, 120, 140], "labelAngle": 0, "labelPadding": 35}
        },
        "y": {
          "field": "r",
          "type": "ordinal",
          "title": null,
          "scale": {"paddingInner": 0, "paddingOuter": 0},
          "axis": {"orient": "left", "labelPadding": 30}
        },
        "color": {
          "field": "v",
          "type": "quantitative",
          "scale": {"domain": [0, 1], "range": ["#008066", "#ffff66"], "interpolate": "rgb"},
          "legend": null
        },
        "stroke": {
          "field": "v",
          "type": "quantitative",
          "scale": {"domain": [0, 1], "range": ["#008066", "#ffff66"], "interpolate": "rgb"},
          "legend": null
        }
      }
    },
    {
      "mark": {"type": "rect", "opacity": 0},
      "encoding": {
        "x": {
          "field": "c",
          "type": "ordinal",
          "title": null,
          "scale": {"paddingInner": 0, "paddingOuter": 0},
          "axis": {"orient": "top", "values": [0, 20, 40, 60, 80, 100, 120, 140], "labels": false}
        },
        "y": {
          "field": "r",
          "type": "ordinal",
          "title": null,
          "scale": {"paddingInner": 0, "paddingOuter": 0},
          "axis": {"orient": "right", "labels": false}
        }
      }
    }
  ],
  "resolve": {"axis": {"x": "independent", "y": "independent"}},
  "config": {
    "view": {"stroke": null},
    "axis": {
      "grid": false,
      "domainColor": "black",
      "domainWidth": 3.5,
      "tickColor": "black",
      "tickWidth": 1.5,
      "tickSize": -16,
      "labelFont": "DejaVu Sans",
      "labelFontSize": 50,
      "labelColor": "black",
      "labelPadding": 35
    }
  }
}
